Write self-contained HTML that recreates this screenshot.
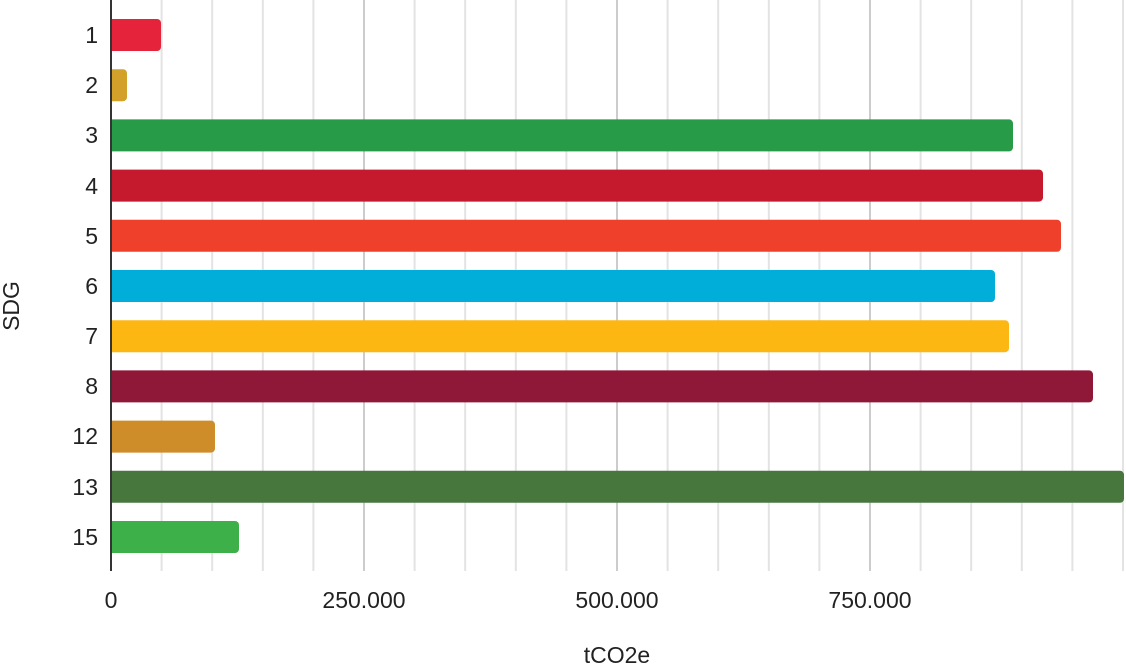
<!DOCTYPE html>
<html><head><meta charset="utf-8"><style>
html,body{margin:0;padding:0;background:#fff;}
svg{display:block;font-family:"Liberation Sans",Arial,sans-serif;}
</style></head><body>
<svg width="1126" height="664" viewBox="0 0 1126 664" xmlns="http://www.w3.org/2000/svg">
<g stroke="#e3e3e3" stroke-width="2">
<line x1="161.6" y1="0" x2="161.6" y2="571"/>
<line x1="212.2" y1="0" x2="212.2" y2="571"/>
<line x1="262.8" y1="0" x2="262.8" y2="571"/>
<line x1="313.4" y1="0" x2="313.4" y2="571"/>
<line x1="414.6" y1="0" x2="414.6" y2="571"/>
<line x1="465.2" y1="0" x2="465.2" y2="571"/>
<line x1="515.8" y1="0" x2="515.8" y2="571"/>
<line x1="566.4" y1="0" x2="566.4" y2="571"/>
<line x1="667.6" y1="0" x2="667.6" y2="571"/>
<line x1="718.2" y1="0" x2="718.2" y2="571"/>
<line x1="768.8" y1="0" x2="768.8" y2="571"/>
<line x1="819.4" y1="0" x2="819.4" y2="571"/>
<line x1="920.6" y1="0" x2="920.6" y2="571"/>
<line x1="971.2" y1="0" x2="971.2" y2="571"/>
<line x1="1021.8" y1="0" x2="1021.8" y2="571"/>
<line x1="1072.4" y1="0" x2="1072.4" y2="571"/>
<line x1="1123" y1="0" x2="1123" y2="571"/>
</g>
<g stroke="#cccccc" stroke-width="2">
<line x1="364" y1="0" x2="364" y2="571"/>
<line x1="617" y1="0" x2="617" y2="571"/>
<line x1="870" y1="0" x2="870" y2="571"/>
</g>
<g>
<rect x="100" y="19" width="61" height="32" rx="4" fill="#e5243b"/>
<rect x="100" y="69.2" width="27" height="32" rx="4" fill="#d3a029"/>
<rect x="100" y="119.4" width="913" height="32" rx="4" fill="#279b48"/>
<rect x="100" y="169.6" width="943" height="32" rx="4" fill="#c5192d"/>
<rect x="100" y="219.8" width="961" height="32" rx="4" fill="#ef402b"/>
<rect x="100" y="270" width="895" height="32" rx="4" fill="#00aed9"/>
<rect x="100" y="320.2" width="909" height="32" rx="4" fill="#fdb713"/>
<rect x="100" y="370.4" width="993" height="32" rx="4" fill="#8f1838"/>
<rect x="100" y="420.6" width="115" height="32" rx="4" fill="#cf8d2a"/>
<rect x="100" y="470.8" width="1024" height="32" rx="4" fill="#48773e"/>
<rect x="100" y="521" width="139" height="32" rx="4" fill="#3eb049"/>
</g>
<rect x="99" y="0" width="11" height="571" fill="#fff"/>
<line x1="111" y1="0" x2="111" y2="571" stroke="#333" stroke-width="2"/>
<g font-size="23" fill="#222" text-anchor="end">
<text x="98" y="43">1</text>
<text x="98" y="93">2</text>
<text x="98" y="143">3</text>
<text x="98" y="194">4</text>
<text x="98" y="244">5</text>
<text x="98" y="294">6</text>
<text x="98" y="344">7</text>
<text x="98" y="394">8</text>
<text x="98" y="444">12</text>
<text x="98" y="495">13</text>
<text x="98" y="545">15</text>
</g>
<g font-size="23" fill="#222" text-anchor="middle">
<text x="111" y="608">0</text>
<text x="364" y="608">250.000</text>
<text x="617" y="608">500.000</text>
<text x="870" y="608">750.000</text>
<text x="617" y="663">tCO2e</text>
<text transform="translate(19,306) rotate(-90)">SDG</text>
</g>
</svg>
</body></html>
